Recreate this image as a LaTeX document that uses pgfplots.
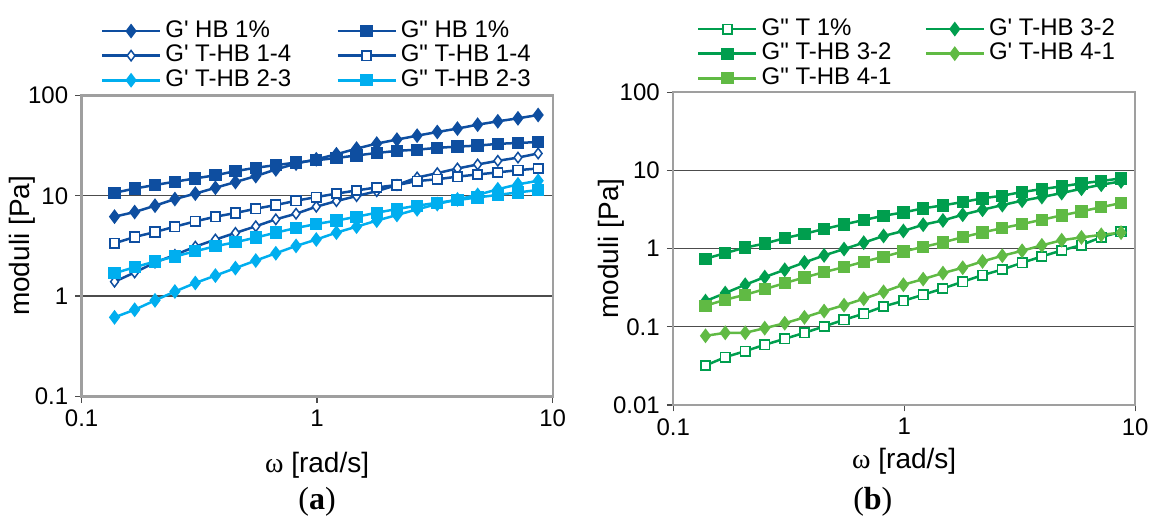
\documentclass[border=0pt]{standalone}
\usepackage{pgfplots}
\pgfplotsset{compat=1.18}
\usepackage{pgfplotstable}
\usepackage{fontspec}
\setmainfont{Liberation Sans}[Ligatures=TeXOff]
\newfontfamily\seriffont{Liberation Serif}

\definecolor{dblue}{RGB}{14,78,160}
\definecolor{lblue}{RGB}{0,174,239}
\definecolor{dgreen}{RGB}{0,158,78}
\definecolor{lgreen}{RGB}{96,186,68}

\pgfplotstableread{
w      A1    A2    A3    A4    A5    A6
0.138  6.19  10.7  1.39  3.36  0.614 1.69
0.168  6.88  11.8  1.72  3.88  0.731 1.94
0.205  7.96  12.8  2.16  4.35  0.906 2.21
0.249  9.27  13.8  2.57  4.92  1.11  2.48
0.304  10.5  14.9  3.11  5.56  1.35  2.80
0.370  12.0  16.0  3.66  6.18  1.60  3.14
0.450  13.7  17.6  4.26  6.73  1.90  3.44
0.549  15.7  19.0  4.96  7.43  2.26  3.83
0.668  18.3  20.2  5.82  8.08  2.67  4.29
0.814  20.9  21.4  6.62  8.92  3.16  4.77
0.992  23.1  22.6  7.78  9.70  3.66  5.23
1.208  25.9  23.8  8.85  10.5  4.29  5.65
1.471  29.5  25.2  9.93  11.3  4.92  6.18
1.792  33.1  26.7  11.1  12.1  5.65  6.78
2.183  36.3  28.0  12.8  12.8  6.43  7.37
2.659  39.7  28.8  15.2  14.0  7.32  7.96
3.239  43.2  30.0  16.8  14.6  8.26  8.52
3.945  46.7  30.9  18.7  15.5  9.20  9.06
4.805  51.1  31.6  20.5  16.3  10.2  9.62
5.853  55.2  32.9  22.3  17.1  11.6  10.2
7.129  59.1  33.6  24.0  18.0  13.0  10.8
8.683  63.8  34.3  26.4  18.7  14.1  11.4
}\tabA

\pgfplotstableread{
w      B1     B2    B3    B4     B5
0.138  0.0320 0.213 0.741 0.0767 0.186
0.168  0.0409 0.270 0.876 0.0838 0.222
0.205  0.0489 0.345 1.03  0.0838 0.257
0.249  0.0589 0.432 1.16  0.0961 0.303
0.304  0.0702 0.536 1.36  0.111  0.362
0.370  0.0838 0.665 1.55  0.132  0.428
0.450  0.101  0.818 1.78  0.159  0.500
0.549  0.123  0.986 2.04  0.189  0.580
0.668  0.147  1.19  2.32  0.228  0.679
0.814  0.182  1.45  2.63  0.280  0.787
0.992  0.215  1.68  2.90  0.345  0.920
1.208  0.257  2.02  3.27  0.407  1.05
1.471  0.309  2.29  3.57  0.486  1.20
1.792  0.377  2.71  3.94  0.569  1.40
2.183  0.458  3.14  4.39  0.686  1.61
2.659  0.541  3.60  4.75  0.810  1.83
3.239  0.659  4.10  5.29  0.938  2.06
3.945  0.794  4.56  5.77  1.10   2.34
4.805  0.948  5.13  6.24  1.28   2.66
5.853  1.11   5.83  6.82  1.39   2.99
7.129  1.40   6.56  7.31  1.50   3.39
8.683  1.64   7.23  7.91  1.60   3.82
}\tabB

\tikzset{
  dia/.style={mark=diamond*, mark size=2.7pt, line width=1.25pt, mark options={solid}},
  odia/.style={mark=diamond*, mark size=2.6pt, line width=1.25pt, mark options={solid, fill=white, line width=0.75pt}},
  sq/.style={mark=square*, mark size=2.45pt, line width=1.25pt, mark options={solid}},
  osq/.style={mark=square*, mark size=2.35pt, line width=1.25pt, mark options={solid, fill=white, line width=0.85pt}},
}

\begin{document}
\begin{tikzpicture}[x=1pt,y=1pt]
\useasboundingbox (0,0) rectangle (575.5,257.5);
\begin{loglogaxis}[
  scale only axis,
  at={(40.8pt,59.3pt)}, anchor=south west,
  width=235.5pt, height=150.5pt,
  xmin=0.1, xmax=10, ymin=0.1, ymax=100,
  xtick={0.1,1,10}, xticklabels={0.1,1,10},
  ytick={0.1,1,10,100}, yticklabels={0.1,1,10,100},
  xminorticks=false, yminorticks=false,
  tick align=outside,
  xtick pos=left, ytick pos=left,
  major tick length=3.2pt,
  tick style={gray!60!black, line width=0.6pt},
  axis line style={gray!75, line width=1.1pt},
  ymajorgrids,
  major grid style={gray!60!black, line width=0.6pt},
  tick label style={font=\fontsize{12}{14}\selectfont},
  xlabel style={font=\fontsize{14}{16}\selectfont, at={(axis description cs:0.5,-0.23)}, anchor=center},
  ylabel style={font=\fontsize{14}{16}\selectfont, at={(axis description cs:-0.127,0.5)}, anchor=center},
  xlabel={{\seriffont ω} [rad/s]},
  ylabel={moduli [Pa]},
  legend columns=2,
  legend cell align=left,
  legend style={draw=none, fill=none, font=\fontsize{12}{12}\selectfont,
    row sep=-2.7pt, inner sep=0pt,
    nodes={text height=8.6pt, text depth=2.4pt},
    /tikz/every even column/.append style={column sep=20.5pt},
    at={(axis description cs:0.04,1.265)}, anchor=north west},
  legend image code/.code={\draw[mark repeat=2,mark phase=2,#1,line width=1.25pt] plot coordinates {(0pt,0pt) (14.5pt,0pt) (29pt,0pt)};},
]
\addplot[dblue, dia] table[x=w, y=A1] {\tabA}; \addlegendentry{G' HB 1\%}
\addplot[dblue, sq] table[x=w, y=A2] {\tabA}; \addlegendentry{G" HB 1\%}
\addplot[dblue, odia] table[x=w, y=A3] {\tabA}; \addlegendentry{G' T-HB 1-4}
\addplot[dblue, osq] table[x=w, y=A4] {\tabA}; \addlegendentry{G" T-HB 1-4}
\addplot[lblue, dia] table[x=w, y=A5] {\tabA}; \addlegendentry{G' T-HB 2-3}
\addplot[lblue, sq] table[x=w, y=A6] {\tabA}; \addlegendentry{G" T-HB 2-3}
\end{loglogaxis}

\begin{loglogaxis}[
  scale only axis,
  at={(336.6pt,55pt)}, anchor=south west,
  width=231pt, height=156.4pt,
  xmin=0.1, xmax=10, ymin=0.01, ymax=100,
  xtick={0.1,1,10}, xticklabels={0.1,1,10},
  ytick={0.01,0.1,1,10,100}, yticklabels={0.01,0.1,1,10,100},
  xminorticks=false, yminorticks=false,
  tick align=outside,
  xtick pos=left, ytick pos=left,
  major tick length=3.2pt,
  tick style={gray!60!black, line width=0.6pt},
  axis line style={gray!75, line width=1.1pt},
  ymajorgrids,
  major grid style={gray!60!black, line width=0.6pt},
  tick label style={font=\fontsize{12}{14}\selectfont},
  xlabel style={font=\fontsize{14}{16}\selectfont, at={(axis description cs:0.5,-0.18)}, anchor=center},
  ylabel style={font=\fontsize{14}{16}\selectfont, at={(axis description cs:-0.133,0.5)}, anchor=center},
  xlabel={{\seriffont ω} [rad/s]},
  ylabel={moduli [Pa]},
  legend columns=2,
  legend cell align=left,
  legend style={draw=none, fill=none, font=\fontsize{12}{12}\selectfont,
    row sep=-2.7pt, inner sep=0pt,
    nodes={text height=8.6pt, text depth=2.4pt},
    /tikz/every even column/.append style={column sep=14.5pt},
    at={(axis description cs:0.051,1.251)}, anchor=north west},
  legend image code/.code={\draw[mark repeat=2,mark phase=2,#1,line width=1.25pt] plot coordinates {(0pt,0pt) (14.5pt,0pt) (29pt,0pt)};},
]
\addplot[dgreen, osq] table[x=w, y=B1] {\tabB}; \addlegendentry{G" T 1\%}
\addplot[dgreen, dia] table[x=w, y=B2] {\tabB}; \addlegendentry{G' T-HB 3-2}
\addplot[dgreen, sq] table[x=w, y=B3] {\tabB}; \addlegendentry{G" T-HB 3-2}
\addplot[lgreen, dia] table[x=w, y=B4] {\tabB}; \addlegendentry{G' T-HB 4-1}
\addplot[lgreen, sq] table[x=w, y=B5] {\tabB}; \addlegendentry{G" T-HB 4-1}
\end{loglogaxis}

\node[font=\seriffont\fontsize{16}{18}\selectfont] at (158.5,6.5) {(\textbf{a})};
\node[font=\seriffont\fontsize{16}{18}\selectfont] at (436.4,6.5) {(\textbf{b})};
\end{tikzpicture}
\end{document}
